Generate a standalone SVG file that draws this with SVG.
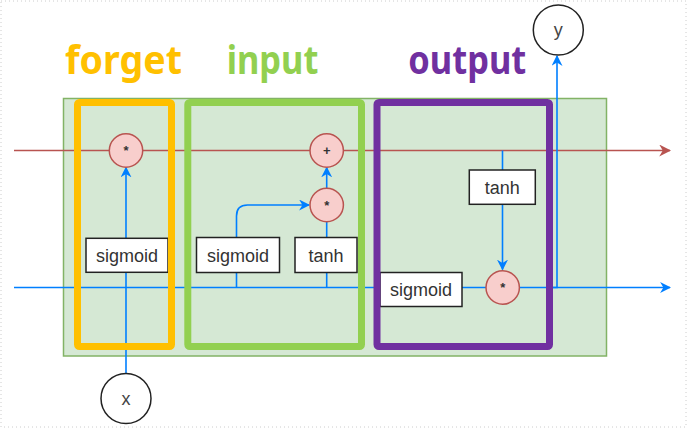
<svg xmlns="http://www.w3.org/2000/svg" width="688" height="429" viewBox="0 0 688 429">
<defs>
<marker id="ab" viewBox="0 0 10 10" refX="9" refY="5" markerWidth="11" markerHeight="11" markerUnits="userSpaceOnUse" orient="auto"><path d="M0,0 L10,5 L0,10 L3,5 Z" fill="#007FFF"/></marker>
<marker id="ar" viewBox="0 0 10 10" refX="9" refY="5" markerWidth="12" markerHeight="12" markerUnits="userSpaceOnUse" orient="auto"><path d="M0,0 L10,5 L0,10 L3,5 Z" fill="#B85450"/></marker>
<style>
.blue{stroke:#007FFF;stroke-width:1.6;fill:none}
.red{stroke:#B85450;stroke-width:1.6;fill:none}
.op{fill:#F8CECC;stroke:#B85450;stroke-width:1.5}
.opt{font-family:"Liberation Sans",Arial,sans-serif;font-size:13px;font-weight:bold;fill:#333;text-anchor:middle}
.box{fill:#fff;stroke:#222;stroke-width:1.5}
.lbl{font-family:"Liberation Sans",Arial,sans-serif;font-size:18px;fill:#333;text-anchor:middle}
.io{fill:#fff;stroke:#222;stroke-width:1.5}
.iot{font-family:"Liberation Sans",Arial,sans-serif;font-size:18px;fill:#444;text-anchor:middle}
.ttl{font-family:"Noto Sans","Liberation Sans",sans-serif;font-weight:bold;font-size:40px}
</style>
</defs>
<rect x="1" y="1" width="685" height="426" fill="none" stroke="#ccc" stroke-width="1" stroke-dasharray="1,3"/>
<rect id="cell" x="63.5" y="98.5" width="543" height="257.5" fill="#D5E8D4" stroke="#82B366" stroke-width="1.5"/>
<g id="connectors">
<line class="red" x1="14" y1="150.5" x2="670" y2="150.5" marker-end="url(#ar)"/>
<line class="blue" x1="14" y1="287.5" x2="670" y2="287.5" marker-end="url(#ab)"/>
<line class="blue" x1="126" y1="373.5" x2="126" y2="167.5" marker-end="url(#ab)"/>
<line class="blue" x1="236.5" y1="287.5" x2="236.5" y2="272.5"/>
<path class="blue" d="M236.5,237.5 V216 Q236.5,205 247.5,205 H309" marker-end="url(#ab)"/>
<line class="blue" x1="326.7" y1="287.5" x2="326.7" y2="221.7"/>
<line class="blue" x1="326.7" y1="188.3" x2="326.7" y2="167.5" marker-end="url(#ab)"/>
<line class="blue" x1="502.5" y1="150.5" x2="502.5" y2="170"/>
<line class="blue" x1="502.5" y1="204.3" x2="502.5" y2="269.5" marker-end="url(#ab)"/>
<path class="blue" d="M549,287.5 H557 V56" marker-end="url(#ab)"/>
</g>
<g id="forget-mul"><circle class="op" cx="126" cy="150.5" r="16.7"/><text class="opt" x="126" y="155">*</text></g>
<g id="input-add"><circle class="op" cx="326.7" cy="150.5" r="16.7"/><text class="opt" x="326.7" y="155">+</text></g>
<g id="input-mul"><circle class="op" cx="326.7" cy="205" r="16.7"/><text class="opt" x="326.7" y="210">*</text></g>
<g id="output-mul"><circle class="op" cx="502.7" cy="287.5" r="16.7"/><text class="opt" x="502.7" y="292">*</text></g>
<g id="forget-sigmoid"><rect class="box" x="86" y="238.3" width="82" height="34"/><text class="lbl" x="127" y="262">sigmoid</text></g>
<g id="input-sigmoid"><rect class="box" x="196.5" y="237.5" width="83" height="35"/><text class="lbl" x="238" y="262">sigmoid</text></g>
<g id="input-tanh"><rect class="box" x="295" y="237.5" width="62" height="35"/><text class="lbl" x="326" y="262">tanh</text></g>
<g id="output-sigmoid"><rect class="box" x="380" y="272.5" width="82" height="34"/><text class="lbl" x="421" y="296">sigmoid</text></g>
<g id="output-tanh"><rect class="box" x="469.3" y="170" width="66" height="34.3"/><text class="lbl" x="502.3" y="194">tanh</text></g>
<g id="x"><circle class="io" cx="126" cy="398.5" r="25"/><text class="iot" x="126" y="405">x</text></g>
<g id="y"><circle class="io" cx="558.3" cy="30" r="25"/><text class="iot" x="558.3" y="36">y</text></g>
<g id="forget-gate"><rect x="77.5" y="102.5" width="94" height="244" rx="2" fill="none" stroke="#FFC000" stroke-width="7"/><text class="ttl" x="65" y="74" fill="#FFC000" textLength="117" lengthAdjust="spacingAndGlyphs">forget</text></g>
<g id="input-gate"><rect x="187.8" y="102.5" width="173.7" height="244" rx="2" fill="none" stroke="#92D050" stroke-width="7"/><text class="ttl" x="226.7" y="74" fill="#92D050" textLength="91.7" lengthAdjust="spacingAndGlyphs">input</text></g>
<g id="output-gate"><rect x="377" y="102.5" width="172.5" height="244" rx="2" fill="none" stroke="#7030A0" stroke-width="7"/><text class="ttl" x="408.3" y="74" fill="#7030A0" textLength="118" lengthAdjust="spacingAndGlyphs">output</text></g>
</svg>
